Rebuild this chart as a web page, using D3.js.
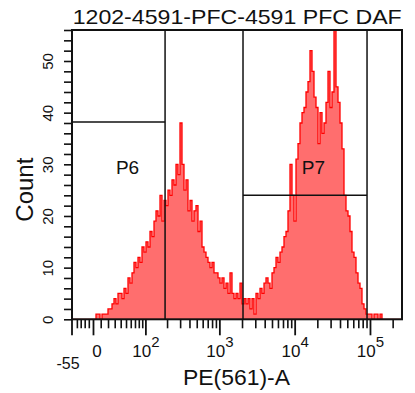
<!DOCTYPE html>
<html><head><meta charset="utf-8">
<script src="https://cdn.jsdelivr.net/npm/d3@7"></script>
<style>
body{margin:0;background:#fff}
text{font-family:"Liberation Sans",Arial,sans-serif;fill:#111}
</style>
</head><body>
<svg id="chart" width="415" height="393"></svg>
<script>
// ---------- data ----------
const title = "1202-4591-PFC-4591 PFC DAF";
const xLabel = "PE(561)-A";
const yLabel = "Count";
const xMin = -55, xMax = 262144;       // biexponential axis range
const yMax = 56;
const yTickValues = d3.range(0, 57, 2);
const yLabelValues = [0, 10, 20, 30, 40, 50];
const xMajorValues = [0, 100, 1000, 10000, 100000];
const xMajorExponents = ["", "2", "3", "4", "5"];
const xMinorValues = [-40, -30, -20, -10,
  10, 20, 30, 40, 50, 60, 70, 80, 90,
  200, 300, 400, 500, 600, 700, 800, 900,
  2000, 3000, 4000, 5000, 6000, 7000, 8000, 9000,
  20000, 30000, 40000, 50000, 60000, 70000, 80000, 90000, 200000];
// histogram counts, bins evenly spaced over the biexponential display range
const counts = [
  0,0,0,0,0,0,0,0,0,0,0,0,
  1,1,0,1,1,1,2,2,3,4,3,5,5,4,6,5,8,7,
  9,11,10,12,11,14,13,15,14,17,16,19,21,20,24,19,23,22,25,24,
  27,26,30,28,38,30,25,27,21,23,19,21,22,17,19,14,13,12,11,10,
  11,9,9,8,7,8,6,7,5,9,5,4,5,4,7,3,4,3,4,2,
  4,1,5,4,6,5,7,8,7,6,9,10,12,11,13,14,16,17,21,30,
  24,19,31,34,38,40,41,44,46,52,48,43,41,34,40,36,38,42,48,41,
  44,56,45,42,38,33,24,21,20,17,13,12,9,7,6,3,2,1,1,1,
  0,1,1,0,1,0,0,0,0,0,0,0,0,0,0
];
const gateNames = ["P6", "P7"];
const gateLo = [-55, 2030];
const gateHi = [185, 90000];
const gateLevel = [38.2, 24];
const gateLabelX = [52, 17500];
const gateLabelY = [28.2, 28.2];

// ---------- layout ----------
const m = {left: 72, top: 30, right: 402, bottom: 319.3};
const svg = d3.select("#chart");

// biexponential-like transform (asinh with separate negative width)
const cPos = 42, cNeg = 78;
const bx = v => v >= 0 ? Math.asinh(v / cPos) / Math.LN10 : -Math.asinh(-v / cNeg) / Math.LN10;
const xs = d3.scaleLinear().domain([bx(xMin), bx(xMax)]).range([m.left, m.right]);
const X = v => xs(bx(v));
const y = d3.scaleLinear().domain([0, yMax]).range([m.bottom, m.top]);

// ---------- histogram ----------
const d0 = bx(xMin), d1 = bx(xMax), n = counts.length, dd = (d1 - d0) / n;
const pts = counts.map((c, i) => ({t: d0 + i * dd, c}));
pts.push({t: d1, c: counts[n - 1]});
svg.append("clipPath").attr("id", "clip").append("rect")
  .attr("x", m.left).attr("y", m.top).attr("width", m.right - m.left).attr("height", m.bottom - m.top);
const g = svg.append("g").attr("clip-path", "url(#clip)");
g.append("path").datum(pts)
  .attr("d", d3.area().curve(d3.curveStepAfter).x(d => xs(d.t)).y0(y(0)).y1(d => y(d.c)))
  .attr("fill", "#ff6e6e");
g.append("path").datum(pts)
  .attr("d", d3.line().curve(d3.curveStepAfter).x(d => xs(d.t)).y(d => y(d.c)))
  .attr("fill", "none").attr("stroke", "#ff0000").attr("stroke-width", 1.3);

// ---------- gates ----------
gateNames.forEach((name, i) => {
  [gateLo[i], gateHi[i]].forEach(v => {
    if (v <= xMin) return;
    svg.append("line").attr("x1", X(v)).attr("x2", X(v))
      .attr("y1", m.top).attr("y2", m.bottom)
      .attr("stroke", "#111").attr("stroke-width", 1.5);
  });
  svg.append("line").attr("x1", X(gateLo[i])).attr("x2", X(gateHi[i]))
    .attr("y1", y(gateLevel[i])).attr("y2", y(gateLevel[i]))
    .attr("stroke", "#111").attr("stroke-width", 1.5);
  svg.append("text").attr("x", X(gateLabelX[i])).attr("y", y(gateLabelY[i]))
    .attr("text-anchor", "middle").attr("font-size", 19).text(name);
});

// ---------- frame ----------
svg.append("rect").attr("x", m.left).attr("y", m.top)
  .attr("width", m.right - m.left).attr("height", m.bottom - m.top)
  .attr("fill", "none").attr("stroke", "#111").attr("stroke-width", 2);

// ---------- y axis ----------
const ya = svg.append("g").attr("transform", `translate(${m.left},0)`)
  .call(d3.axisLeft(y).tickValues(yTickValues).tickSize(8).tickSizeOuter(0)
    .tickFormat(d => yLabelValues.includes(d) ? d : ""));
ya.select(".domain").remove();
ya.selectAll("line").attr("stroke", "#111").attr("stroke-width", 1.6);
ya.selectAll("text").attr("x", null).attr("dy", null)
  .attr("transform", "translate(-19,0) rotate(-90)")
  .attr("text-anchor", "middle").attr("font-size", 15).attr("fill", "#111");

// ---------- x axis ----------
const xa = svg.append("g");
xMinorValues.forEach(v => {
  xa.append("line").attr("x1", X(v)).attr("x2", X(v)).attr("y1", m.bottom).attr("y2", m.bottom + 9)
    .attr("stroke", "#111").attr("stroke-width", 1.6);
});
[xMin].concat(xMajorValues).forEach(v => {
  xa.append("line").attr("x1", X(v)).attr("x2", X(v)).attr("y1", m.bottom).attr("y2", m.bottom + 16)
    .attr("stroke", "#111").attr("stroke-width", 1.8);
});
xMajorValues.forEach((v, i) => {
  const t = xa.append("text").attr("y", 357).attr("font-size", 17).attr("text-anchor", "middle");
  if (xMajorExponents[i] === "") {
    t.attr("x", X(v) + 3.5).text(String(v));
  } else {
    t.attr("x", X(v));
    t.append("tspan").text("10");
    t.append("tspan").attr("font-size", 15).attr("dy", -10).text(xMajorExponents[i]);
  }
});
xa.append("text").attr("x", X(xMin) - 4).attr("y", 369).attr("font-size", 16)
  .attr("text-anchor", "middle").text(String(xMin));

// ---------- labels ----------
svg.append("text").attr("x", 72.7).attr("y", 24).attr("font-size", 21)
  .attr("textLength", 329).attr("lengthAdjust", "spacingAndGlyphs").text(title);
svg.append("text").attr("transform", `translate(33,${(m.top + m.bottom) / 2 + 15}) rotate(-90)`)
  .attr("text-anchor", "middle").attr("font-size", 24).text(yLabel);
svg.append("text").attr("x", 236.5).attr("y", 385).attr("font-size", 22)
  .attr("text-anchor", "middle").attr("textLength", 107).attr("lengthAdjust", "spacingAndGlyphs").text(xLabel);
</script>
</body></html>
